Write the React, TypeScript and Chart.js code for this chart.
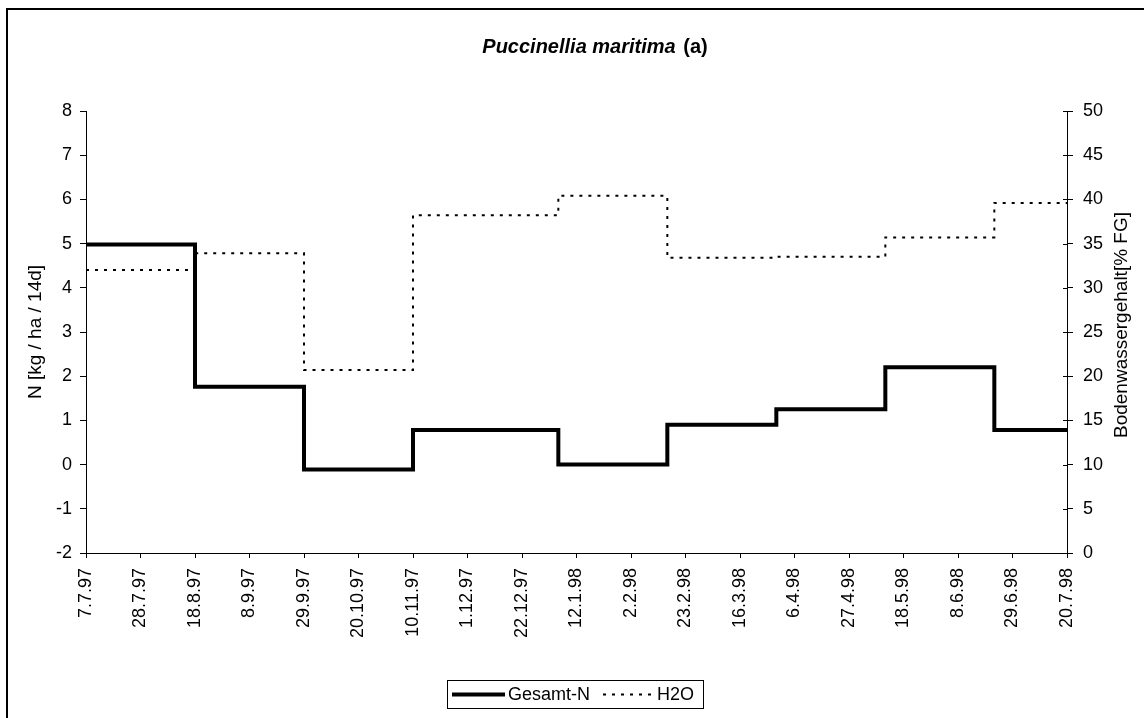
import React, { useEffect, useRef } from "react";
import { Chart, registerables } from "chart.js";

Chart.register(...registerables);

// ---- data ----
const startDate = "7.7.97";
const tickLabels = [
  "7.7.97", "28.7.97", "18.8.97", "8.9.97", "29.9.97", "20.10.97", "10.11.97",
  "1.12.97", "22.12.97", "12.1.98", "2.2.98", "23.2.98", "16.3.98", "6.4.98",
  "27.4.98", "18.5.98", "8.6.98", "29.6.98", "20.7.98",
];
const stepDates = [
  "7.7.97", "18.8.97", "29.9.97", "10.11.97", "5.1.98", "16.2.98",
  "30.3.98", "11.5.98", "22.6.98", "20.7.98",
];
const gesamtN = [4.98, 1.76, -0.11, 0.78, 0.0, 0.9, 1.25, 2.2, 0.78, 0.78];
const h2o = [32.0, 33.9, 20.7, 38.2, 40.4, 33.4, 33.5, 35.7, 39.6, 39.6];

const titleItalic = "Puccinellia maritima";
const titleRest = " (a)";
const leftAxisTitle = "N [kg / ha / 14d]";
const rightAxisTitle = "Bodenwassergehalt[% FG]";
const seriesNames = ["Gesamt-N", "H2O"];

const FONT = "'Liberation Sans', Arial, sans-serif";
const TICK_SIZE = 18;

function parseDate(s: string): number {
  const [d, m, y] = s.split(".").map(Number);
  return Date.UTC(1900 + y, m - 1, d);
}
function dayOffset(s: string): number {
  return Math.round((parseDate(s) - parseDate(startDate)) / 86400000);
}
const tickDays = tickLabels.map(dayOffset);
const stepDays = stepDates.map(dayOffset);

const decorPlugin = {
  id: "decor",
  afterDraw(chart: any) {
    const ctx = chart.ctx as CanvasRenderingContext2D;
    const area = chart.chartArea;
    ctx.save();
    // outer border
    ctx.strokeStyle = "#000";
    ctx.lineWidth = 2;
    ctx.strokeRect(7, 9, 1150, 720);

    // title
    ctx.fillStyle = "#000";
    ctx.textBaseline = "middle";
    ctx.textAlign = "left";
    const f1 = `italic bold 20px ${FONT}`;
    const f2 = `bold 20px ${FONT}`;
    ctx.font = f1;
    const w1 = ctx.measureText(titleItalic).width;
    ctx.font = f2;
    const w2 = ctx.measureText(titleRest).width;
    const tx = 594 - (w1 + w2) / 2;
    ctx.font = f1;
    ctx.fillText(titleItalic, tx, 47);
    ctx.font = f2;
    ctx.fillText(titleRest, tx + w1 + 2, 47);

    // axis titles
    const cy = (area.top + area.bottom) / 2;
    ctx.font = `19px ${FONT}`;
    ctx.textAlign = "center";
    ctx.save();
    ctx.translate(36, cy);
    ctx.rotate(-Math.PI / 2);
    ctx.fillText(leftAxisTitle, 0, 0);
    ctx.restore();
    ctx.save();
    ctx.translate(1122, cy - 7);
    ctx.rotate(-Math.PI / 2);
    ctx.fillText(rightAxisTitle, 0, 0);
    ctx.restore();

    // inner part of right axis ticks
    const y1 = chart.scales.y1;
    ctx.strokeStyle = "#000";
    ctx.lineWidth = 1;
    ctx.beginPath();
    y1.ticks.forEach((t: any) => {
      const py = Math.round(y1.getPixelForValue(t.value)) + 0.5;
      ctx.moveTo(area.right - 4, py);
      ctx.lineTo(area.right, py);
    });
    ctx.stroke();

    // legend
    ctx.lineWidth = 1;
    ctx.strokeRect(447.5, 680.5, 256, 28);
    const ly = 694.5;
    ctx.lineWidth = 4;
    ctx.setLineDash([]);
    ctx.beginPath();
    ctx.moveTo(452, ly);
    ctx.lineTo(505, ly);
    ctx.stroke();
    ctx.lineWidth = 2;
    ctx.setLineDash([3, 6]);
    ctx.beginPath();
    ctx.moveTo(603, ly);
    ctx.lineTo(652, ly);
    ctx.stroke();
    ctx.setLineDash([]);
    ctx.textAlign = "left";
    ctx.font = `18px ${FONT}`;
    ctx.fillText(seriesNames[0], 508, ly + 1);
    ctx.fillText(seriesNames[1], 657, ly + 1);
    ctx.restore();
  },
};

export default function App() {
  const ref = useRef<HTMLCanvasElement | null>(null);
  useEffect(() => {
    document.body.style.margin = "0";
    const canvas = ref.current!;
    const chart = new Chart(canvas, {
      type: "line",
      data: {
        datasets: [
          {
            label: seriesNames[0],
            data: stepDays.map((x, i) => ({ x, y: gesamtN[i] })),
            yAxisID: "y",
            borderColor: "#000",
            borderWidth: 4,
            stepped: true,
            pointRadius: 0,
            fill: false,
            borderJoinStyle: "miter",
            borderCapStyle: "butt",
          },
          {
            label: seriesNames[1],
            data: stepDays.map((x, i) => ({ x, y: h2o[i] })),
            yAxisID: "y1",
            borderColor: "#000",
            borderWidth: 2,
            borderDash: [3, 6],
            stepped: true,
            pointRadius: 0,
            fill: false,
          },
        ],
      },
      options: {
        animation: false,
        responsive: true,
        maintainAspectRatio: false,
        layout: { padding: { top: 111, left: 0, right: 0, bottom: 0 } },
        plugins: { legend: { display: false }, title: { display: false }, tooltip: { enabled: false } },
        scales: {
          x: {
            type: "linear",
            min: 0,
            max: tickDays[tickDays.length - 1],
            afterBuildTicks: (s: any) => {
              s.ticks = tickDays.map((v) => ({ value: v }));
            },
            afterFit: (s: any) => {
              s.height = 165;
            },
            ticks: {
              autoSkip: false,
              maxRotation: 90,
              minRotation: 90,
              padding: 10,
              color: "#000",
              font: { family: FONT, size: TICK_SIZE },
              callback: (_v: any, i: number) => tickLabels[i],
            },
            grid: { drawOnChartArea: false, color: "#000", tickLength: 5 },
            border: { color: "#000", width: 1 },
          },
          y: {
            position: "left",
            min: -2,
            max: 8,
            ticks: { stepSize: 1, padding: 8, color: "#000", font: { family: FONT, size: TICK_SIZE } },
            afterFit: (s: any) => {
              s.width = 86;
            },
            grid: { drawOnChartArea: false, color: "#000", tickLength: 6 },
            border: { color: "#000", width: 1 },
          },
          y1: {
            position: "right",
            min: 0,
            max: 50,
            ticks: { stepSize: 5, padding: 10, color: "#000", font: { family: FONT, size: TICK_SIZE } },
            afterFit: (s: any) => {
              s.width = 77;
            },
            grid: { drawOnChartArea: false, color: "#000", tickLength: 6 },
            border: { color: "#000", width: 1 },
          },
        },
      },
      plugins: [decorPlugin],
    } as any);
    return () => chart.destroy();
  }, []);
  return (
    <div style={{ width: 1144, height: 718, position: "relative", background: "#fff" }}>
      <canvas ref={ref} />
    </div>
  );
}
